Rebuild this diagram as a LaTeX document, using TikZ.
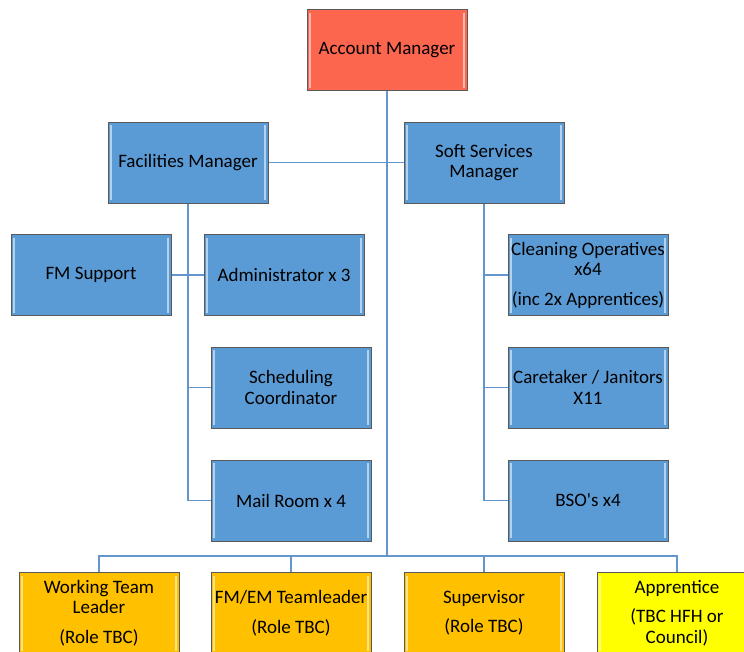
\documentclass[tikz,border=0pt]{standalone}
\usepackage{fontspec}
\setmainfont{Carlito}
\usepackage{tikz}
\usetikzlibrary{arrows.meta}

\definecolor{amred}{RGB}{252,101,78}
\definecolor{boxblue}{RGB}{91,155,213}
\definecolor{boxorange}{RGB}{255,192,0}
\definecolor{boxyellow}{RGB}{255,255,0}
\definecolor{linkblue}{RGB}{98,150,205}

\tikzset{
  box/.style={rectangle, draw=black!65, line width=1pt, minimum width=160pt,
    minimum height=81pt, inner sep=1pt, align=center,
    font=\fontsize{19}{20.5}\selectfont,
    path picture={
      \draw[white, opacity=0.55, line width=1.3pt]
        ([xshift=3pt,yshift=-3pt]path picture bounding box.north west) --
        ([xshift=3pt,yshift=3pt]path picture bounding box.south west);
      \draw[white, opacity=0.55, line width=1.3pt]
        ([xshift=-3pt,yshift=-3pt]path picture bounding box.north east) --
        ([xshift=-3pt,yshift=3pt]path picture bounding box.south east);
    }},
  redbox/.style={box, fill=amred},
  bluebox/.style={box, fill=boxblue},
  orangebox/.style={box, fill=boxorange},
  yellowbox/.style={box, fill=boxyellow},
  link/.style={draw=linkblue, line width=1.1pt}
}

\begin{document}
\begin{tikzpicture}[x=1pt, y=-1pt]
    \clip (0,0) rectangle (744,651);

    \node[redbox] (am) at (387,50) {Account Manager};

    \node[bluebox] (fm) at (188,162.5) {Facilities Manager};
    \node[bluebox] (ssm) at (484,162.5) {Soft Services\\Manager};

    \node[bluebox] (fmsup) at (91,275) {FM Support};
    \node[bluebox] (admin) at (284,275) {Administrator x 3};
    \node[bluebox] (sched) at (291,387.5) {Scheduling\\Coordinator};
    \node[bluebox] (mail) at (291,500.5) {Mail Room x 4};

    \node[bluebox] (clean) at (588,275) {Cleaning Operatives\\x64\\[9pt](inc 2x Apprentices)};
    \node[bluebox] (care) at (588,387.5) {Caretaker / Janitors\\X11};
    \node[bluebox] (bso) at (588,500.5) {BSO\textquotesingle s x4};

    \node[orangebox] (wtl) at (99,613) {Working Team\\Leader\\[9pt](Role TBC)};
    \node[orangebox] (fmem) at (291,613) {FM/EM Teamleader\\[9pt](Role TBC)};
    \node[orangebox] (sup) at (484,613) {Supervisor\\[9pt](Role TBC)};
    \node[yellowbox] (appr) at (677,613) {Apprentice\\[9pt](TBC HFH or\\Council)};

    \coordinate (bus) at (387,556);

    % trunk and bus
    \draw[link] (am.south) -- (bus);
    \draw[link] (wtl.north) |- (bus) -| (appr.north);
    \draw[link] (fmem.north) -- (fmem.north |- bus);
    \draw[link] (sup.north) -- (sup.north |- bus);

    % managers
    \draw[link] (fm.east) -- (ssm.west);

    % facilities side
    \draw[link] (fm.south) |- (mail.west);
    \draw[link] (fm.south |- sched.west) -- (sched.west);
    \draw[link] (fmsup.east) -- (admin.west);

    % soft services side
    \draw[link] (ssm.south) |- (bso.west);
    \draw[link] (ssm.south |- care.west) -- (care.west);
    \draw[link] (ssm.south |- clean.west) -- (clean.west);
\end{tikzpicture}
\end{document}
